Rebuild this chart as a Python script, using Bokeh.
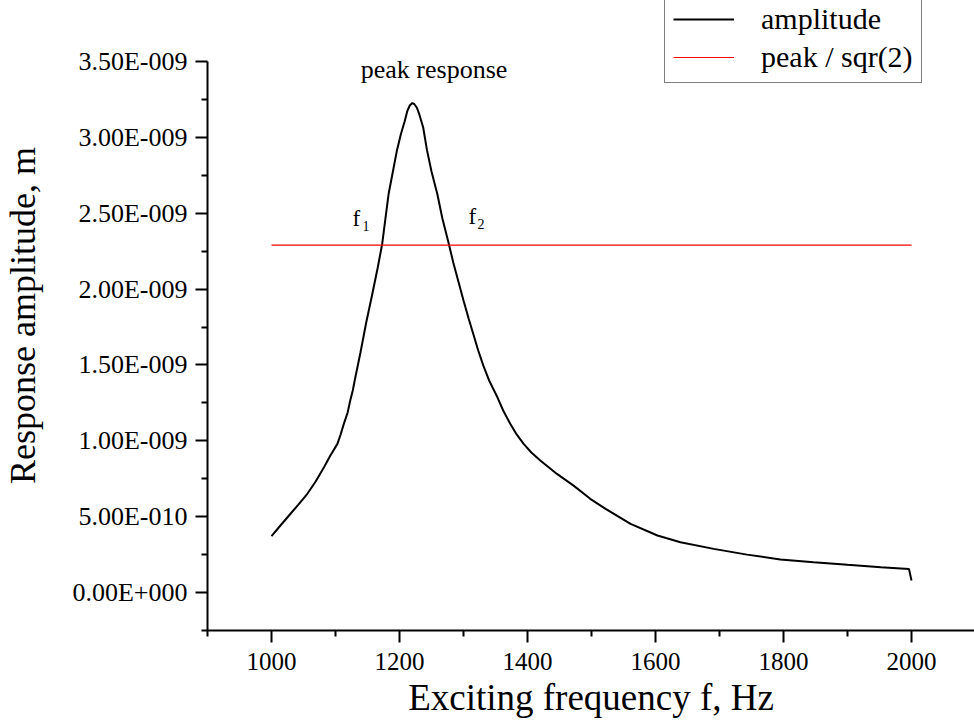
from bokeh.plotting import figure
from bokeh.models import Range1d, FixedTicker, Legend, LegendItem, Label
from bokeh.embed import file_html
from bokeh.resources import INLINE

# ---- data ----
freq_hz = [1000, 1014, 1030, 1042, 1056, 1069, 1082, 1092, 1103, 1108,
           1113, 1119, 1123, 1127, 1130, 1139, 1148, 1158, 1166, 1173,
           1178, 1183, 1190, 1196, 1202, 1208, 1212, 1216, 1220, 1223,
           1227, 1231, 1237, 1243, 1250, 1259, 1267, 1277, 1284, 1292,
           1300, 1308, 1316, 1323, 1331, 1340, 1353, 1362, 1373, 1383,
           1394, 1406, 1420, 1446, 1472, 1498, 1522, 1561, 1603, 1639,
           1691, 1743, 1795, 1847, 1900, 1952, 1996, 2000]
amp_e9 = [0.372, 0.442, 0.521, 0.580, 0.651, 0.732, 0.826, 0.903, 0.980, 1.042,
          1.112, 1.187, 1.266, 1.332, 1.398, 1.582, 1.780, 1.978, 2.142, 2.299,
          2.465, 2.628, 2.782, 2.914, 3.019, 3.105, 3.171, 3.210, 3.226, 3.220,
          3.197, 3.151, 3.065, 2.914, 2.775, 2.628, 2.465, 2.299, 2.175, 2.050,
          1.925, 1.806, 1.694, 1.595, 1.496, 1.398, 1.287, 1.200, 1.112, 1.042,
          0.980, 0.923, 0.870, 0.782, 0.705, 0.618, 0.552, 0.453, 0.376, 0.332,
          0.288, 0.250, 0.218, 0.200, 0.183, 0.167, 0.156, 0.079]
amplitude_m = [v * 1e-9 for v in amp_e9]

half_power_freq = [1000, 2000]
half_power_amp = [2.29e-9, 2.29e-9]

x_major_ticks = [1000, 1200, 1400, 1600, 1800, 2000]
x_minor_ticks = [900, 1100, 1300, 1500, 1700, 1900, 2100]
y_major_ticks = [0.0, 5e-10, 1e-9, 1.5e-9, 2e-9, 2.5e-9, 3e-9, 3.5e-9]
y_major_labels = ["0.00E+000", "5.00E-010", "1.00E-009", "1.50E-009",
                  "2.00E-009", "2.50E-009", "3.00E-009", "3.50E-009"]
y_minor_ticks = [-2.5e-10, 2.5e-10, 7.5e-10, 1.25e-9, 1.75e-9,
                 2.25e-9, 2.75e-9, 3.25e-9]

FONT = "Liberation Serif"

p = figure(width=974, height=721,
           x_range=Range1d(900, 2098.4), y_range=Range1d(-0.25e-9, 3.902e-9),
           output_backend="svg", toolbar_location=None,
           min_border_left=207, min_border_right=0,
           min_border_top=0, min_border_bottom=91)
p.grid.visible = False
p.outline_line_color = None
p.background_fill_color = "white"
p.border_fill_color = "white"

amp_r = p.line(freq_hz, amplitude_m, line_color="black", line_width=2)
half_r = p.line(half_power_freq, half_power_amp, line_color="red", line_width=1.2)

for ax in (p.xaxis[0], p.yaxis[0]):
    ax.axis_line_width = 2
    ax.axis_line_color = "black"
    ax.major_tick_line_width = 2
    ax.minor_tick_line_width = 2
    ax.major_tick_line_color = "black"
    ax.minor_tick_line_color = "black"
    ax.major_tick_in = 0
    ax.major_tick_out = 12
    ax.minor_tick_in = 0
    ax.minor_tick_out = 6
    ax.major_label_text_font = FONT
    ax.major_label_text_color = "black"
    ax.axis_label_text_font = FONT
    ax.axis_label_text_font_style = "normal"
    ax.axis_label_text_color = "black"

xa = p.xaxis[0]
xa.ticker = FixedTicker(ticks=x_major_ticks, minor_ticks=x_minor_ticks)
xa.axis_label = "Exciting frequency f, Hz"
xa.axis_label_text_font_size = "37px"
xa.major_label_text_font_size = "25px"
xa.major_label_standoff = 10
xa.axis_label_standoff = 4

ya = p.yaxis[0]
ya.ticker = FixedTicker(ticks=y_major_ticks, minor_ticks=y_minor_ticks)
ya.major_label_overrides = dict(zip(y_major_ticks, y_major_labels))
ya.bounds = (-0.25e-9, 3.5e-9)
ya.axis_label = "Response amplitude, m"
ya.axis_label_text_font_size = "36px"
ya.major_label_text_font_size = "26px"
ya.major_label_standoff = 8
ya.axis_label_standoff = 26

legend = Legend(items=[LegendItem(label="amplitude", renderers=[amp_r]),
                       LegendItem(label="peak / sqr(2)", renderers=[half_r])],
                location=(457, 547), padding=8, spacing=4, margin=0,
                glyph_width=61, glyph_height=28, label_height=28,
                label_standoff=27,
                label_text_font=FONT, label_text_font_size="30px",
                label_text_color="black",
                border_line_color="black", border_line_width=1,
                background_fill_color="white", background_fill_alpha=1.0)
p.add_layout(legend, "center")

p.add_layout(Label(x=1254, y=3.448e-9, text="peak response", text_font=FONT,
                   text_font_size="26px", text_align="center",
                   text_baseline="middle", text_color="black"))
p.add_layout(Label(x=1126.6, y=2.465e-9, text="f", text_font=FONT,
                   text_font_size="23px", text_baseline="alphabetic",
                   text_color="black"))
p.add_layout(Label(x=1142, y=2.419e-9, text="1", text_font=FONT,
                   text_font_size="14px", text_baseline="alphabetic",
                   text_color="black"))
p.add_layout(Label(x=1307.8, y=2.479e-9, text="f", text_font=FONT,
                   text_font_size="23px", text_baseline="alphabetic",
                   text_color="black"))
p.add_layout(Label(x=1322, y=2.426e-9, text="2", text_font=FONT,
                   text_font_size="14px", text_baseline="alphabetic",
                   text_color="black"))

open("out.html", "w").write(file_html(p, INLINE))
